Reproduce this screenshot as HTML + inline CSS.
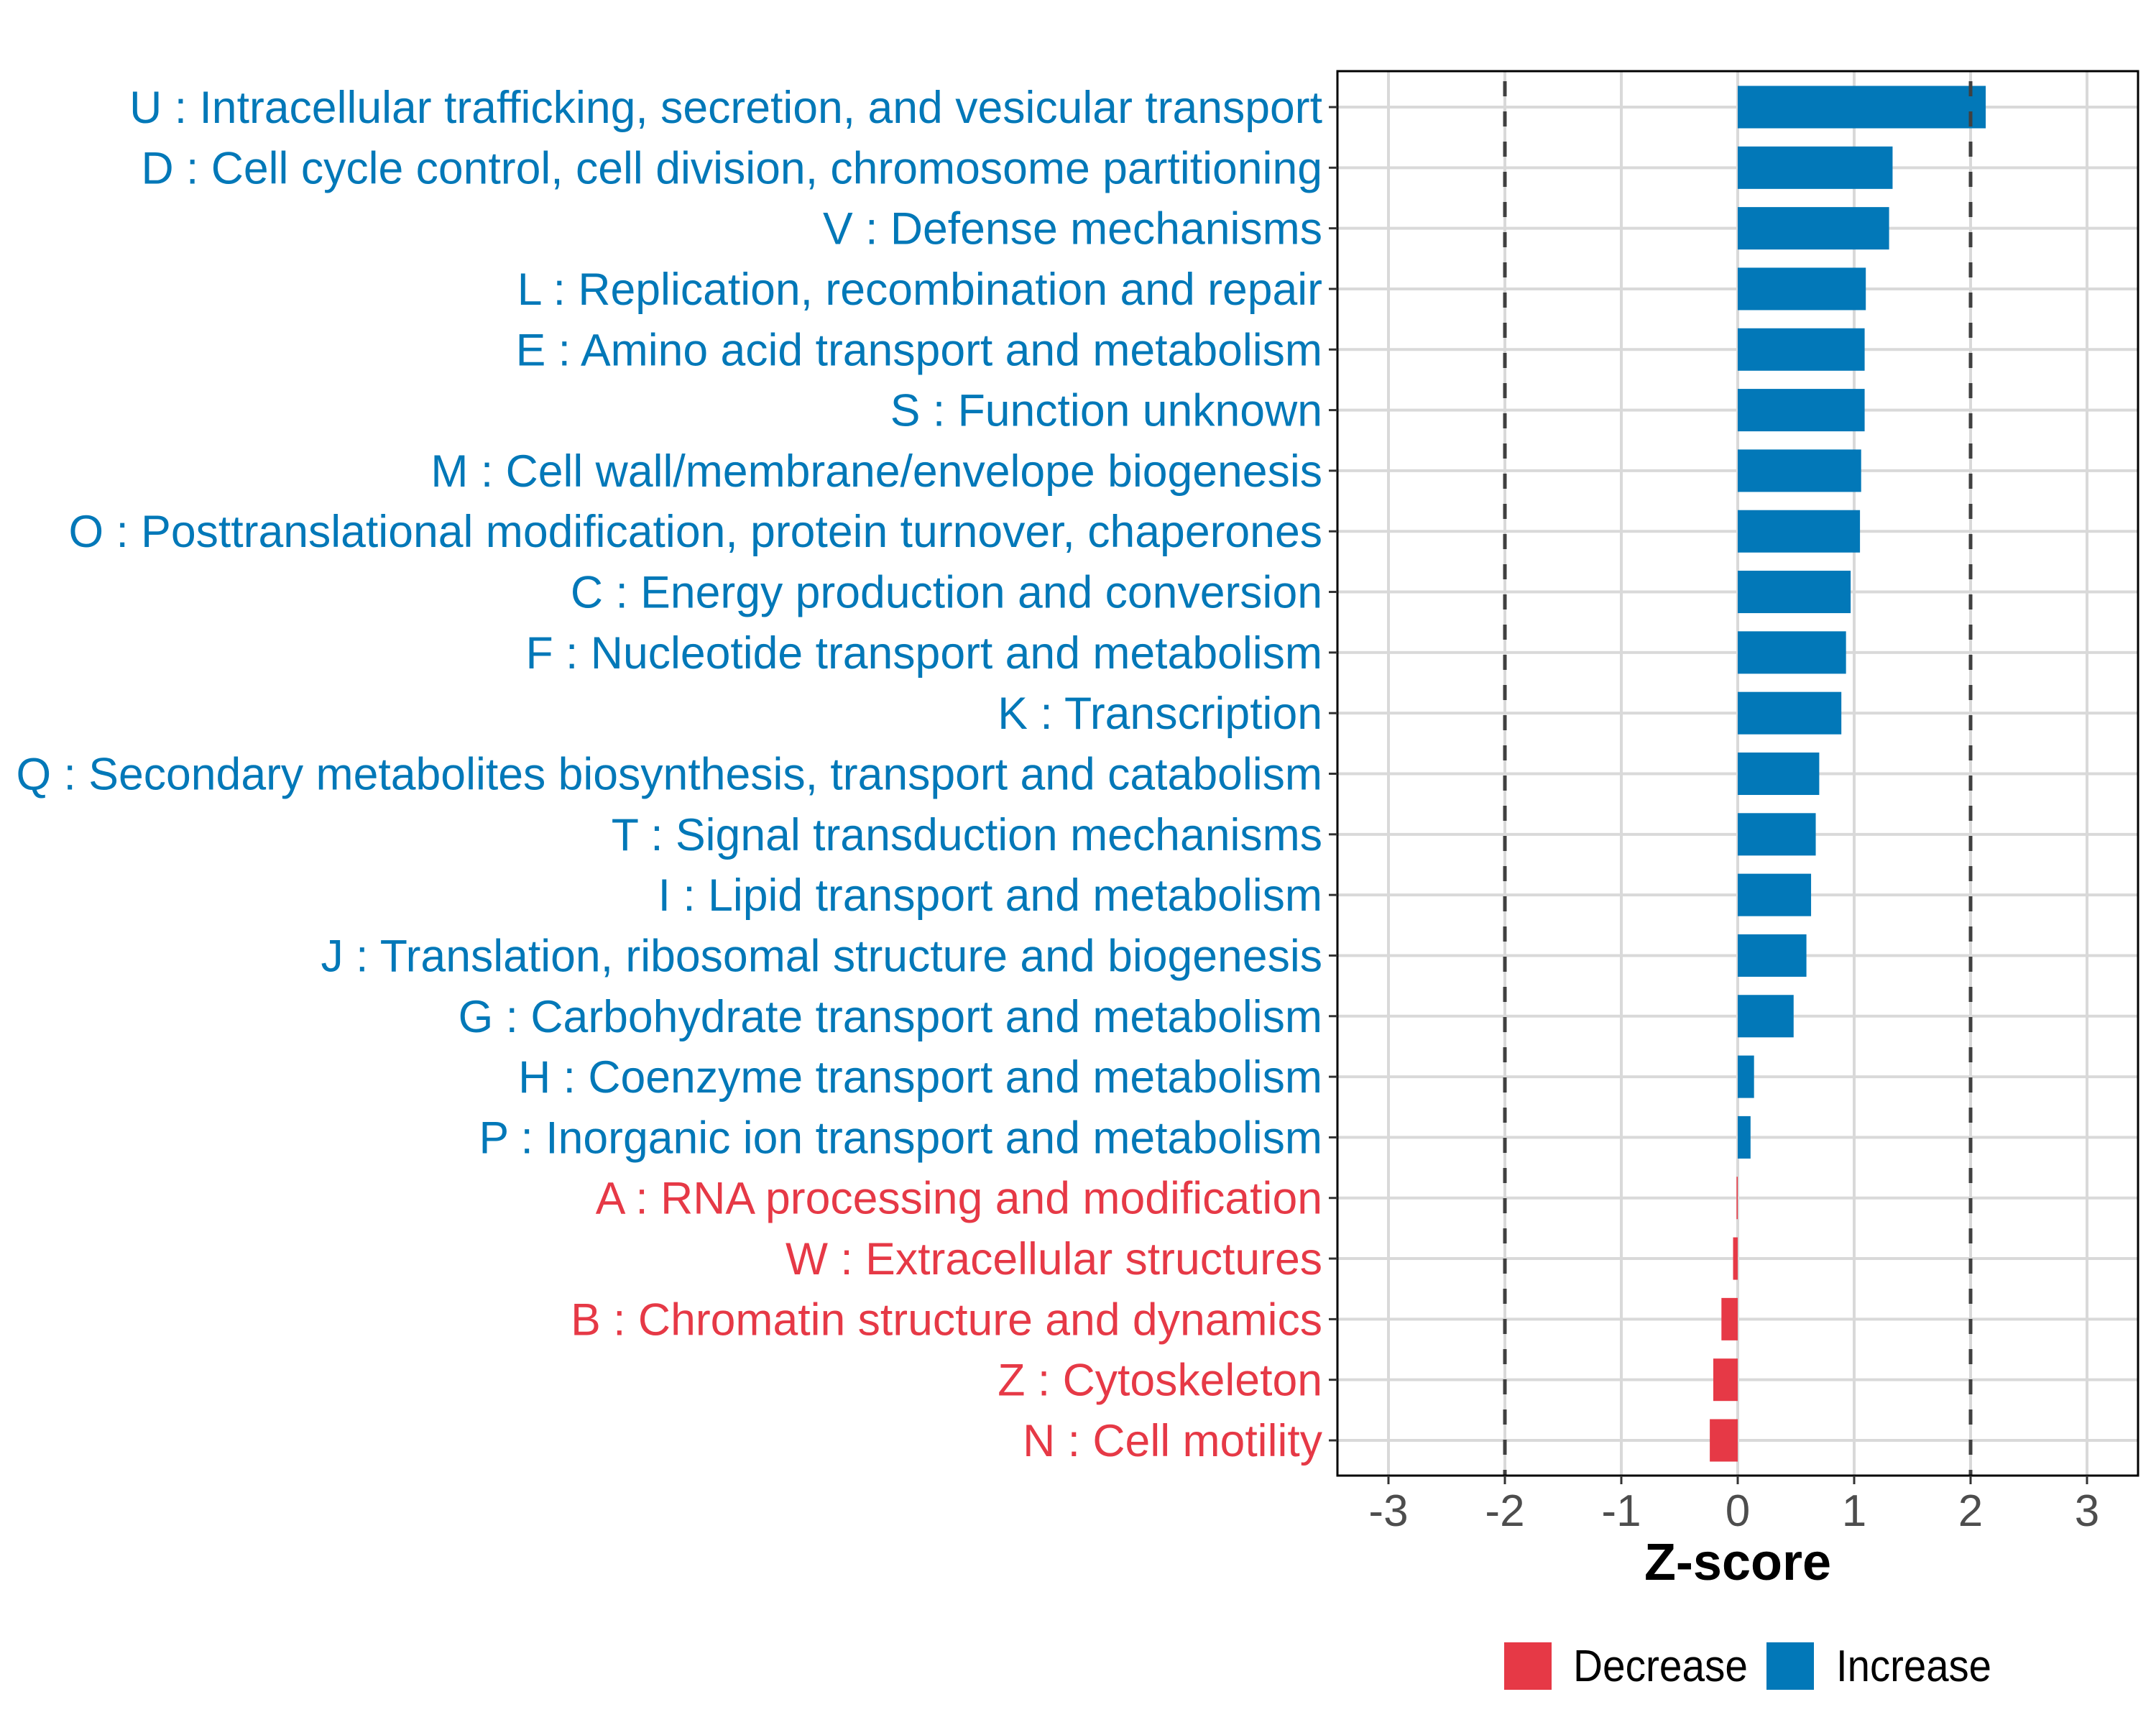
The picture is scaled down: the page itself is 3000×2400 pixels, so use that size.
<!DOCTYPE html>
<html><head><meta charset="utf-8"><style>
html,body{margin:0;padding:0;background:#fff;}
svg{display:block;font-family:"Liberation Sans",Arial,sans-serif;}
</style></head><body>
<svg id="chart" width="3000" height="2400" viewBox="0 0 3000 2400">
<g id="grid"></g>
<g id="bars"></g>
<g id="ref"></g>
<rect x="1861" y="99" width="1114" height="1954" fill="none" stroke="#000" stroke-width="3"/>
<g id="ylabels"></g>
<g id="xticks"></g>
<text x="2418" y="2198" text-anchor="middle" font-size="72" font-weight="bold" fill="#000">Z-score</text>
<g>
<rect x="2093" y="2285" width="66" height="66" fill="#E63946"/>
<text x="2189" y="2339" font-size="62" fill="#000" textLength="243" lengthAdjust="spacingAndGlyphs">Decrease</text>
<rect x="2458" y="2285" width="66" height="66" fill="#0278B8"/>
<text x="2555" y="2339" font-size="62" fill="#000" textLength="216" lengthAdjust="spacingAndGlyphs">Increase</text>
</g>
</svg>
<script>
const categories = [
"U : Intracellular trafficking, secretion, and vesicular transport",
"D : Cell cycle control, cell division, chromosome partitioning",
"V : Defense mechanisms",
"L : Replication, recombination and repair",
"E : Amino acid transport and metabolism",
"S : Function unknown",
"M : Cell wall/membrane/envelope biogenesis",
"O : Posttranslational modification, protein turnover, chaperones",
"C : Energy production and conversion",
"F : Nucleotide transport and metabolism",
"K : Transcription",
"Q : Secondary metabolites biosynthesis, transport and catabolism",
"T : Signal transduction mechanisms",
"I : Lipid transport and metabolism",
"J : Translation, ribosomal structure and biogenesis",
"G : Carbohydrate transport and metabolism",
"H : Coenzyme transport and metabolism",
"P : Inorganic ion transport and metabolism",
"A : RNA processing and modification",
"W : Extracellular structures",
"B : Chromatin structure and dynamics",
"Z : Cytoskeleton",
"N : Cell motility"];
const zscores = [2.13,1.33,1.30,1.10,1.09,1.09,1.06,1.05,0.97,0.93,0.89,0.70,0.67,0.63,0.59,0.48,0.14,0.11,-0.01,-0.04,-0.14,-0.21,-0.24];
const xTicks = [-3,-2,-1,0,1,2,3];
const xTickLabels = ["-3","-2","-1","0","1","2","3"];
const refLines = [-2,2];

const NS="http://www.w3.org/2000/svg";
const PL=1861, PR=2975, PT=99, PB=2053;
const X0=2418, UNIT=162;
const xs = v => X0 + v*UNIT;
const Y0=149, STEP=(2004-149)/(categories.length-1);
const ys = i => Y0 + i*STEP;
const BLUE="#0278B8", RED="#E63946";
function mk(tag, attrs, parent){const e=document.createElementNS(NS,tag);for(const k in attrs)e.setAttribute(k,attrs[k]);parent.appendChild(e);return e;}
const grid=document.getElementById('grid'), bars=document.getElementById('bars'), ref=document.getElementById('ref'), yl=document.getElementById('ylabels'), xt=document.getElementById('xticks');
xTicks.forEach((t,i)=>{
  const g=mk('line',{x1:xs(t),x2:xs(t),y1:PT,y2:PB,stroke:'#D9D9D9','stroke-width':4},grid);
  
  
  const tk=mk('line',{x1:xs(t),x2:xs(t),y1:PB,y2:PB+12,stroke:'#333','stroke-width':3},xt);
  
  
  const tl=mk('text',{x:xs(t),y:PB+70,'text-anchor':'middle','font-size':62,fill:'#4D4D4D'},xt);
  tl.textContent=xTickLabels[i];
  
  
});
categories.forEach((c,i)=>{
  const y=ys(i);
  const g=mk('line',{x1:PL,x2:PR,y1:y,y2:y,stroke:'#D9D9D9','stroke-width':4},grid);
  
  
  const v=zscores[i], h=STEP*0.7;
  const r=mk('rect',{x:Math.min(xs(0),xs(v)),y:y-h/2,width:Math.max(Math.abs(xs(v)-xs(0)),1.5),height:h,fill:v>=0?BLUE:RED},bars);
  
  
  const tk=mk('line',{x1:PL-12,x2:PL,y1:y,y2:y,stroke:'#333','stroke-width':3},yl);
  
  
  const t=mk('text',{x:1840,y:y+22,'text-anchor':'end','font-size':63,fill:v>=0?BLUE:RED},yl);
  t.textContent=c;
  
  
});
refLines.forEach(v=>{
  const l=mk('line',{x1:xs(v),x2:xs(v),y1:PT,y2:PB,stroke:'#404040','stroke-width':5,'stroke-dasharray':'21 21','stroke-dashoffset':'-14'},ref);
  
  
});
// fit label widths to reference (Q label spans x=22..1840)
const qLab=yl.querySelectorAll('text')[11];
const w=qLab.getComputedTextLength();
const f=(1840-22)/w;
yl.querySelectorAll('text').forEach(t=>{t.setAttribute('transform','translate(1840,0) scale('+f+',1) translate(-1840,0)');});
</script>
</body></html>
